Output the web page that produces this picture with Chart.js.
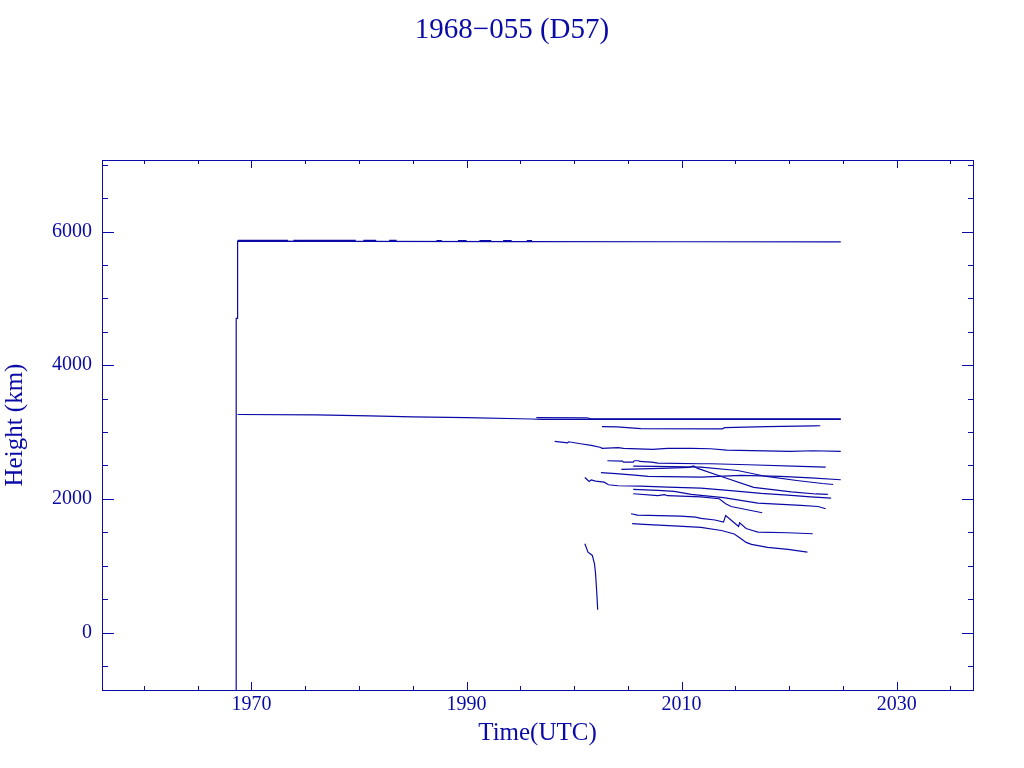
<!DOCTYPE html>
<html>
<head>
<meta charset="utf-8">
<title>1968-055 (D57)</title>
<script src="https://cdn.jsdelivr.net/npm/chart.js@4"></script>
<style>
  html, body { margin: 0; padding: 0; background: #fff; }
  #wrap { width: 1024px; height: 768px; }
</style>
</head>
<body>
<div id="wrap"><canvas id="chart" width="1024" height="768"></canvas></div>
<script>
// ===============================
// DATA  (year, height km)
// ===============================
const xTickYears = [1970, 1990, 2010, 2030];
const yTickKm = [0, 2000, 4000, 6000];

// main object: apogee + perigee
const apogeeA = [[1968.58, -2000], [1968.58, 4700], [1968.71, 4700], [1968.71, 5855], [1980, 5853], [1995, 5850], [2010, 5847], [2024.8, 5845]];
const perigeeA = [[1968.71, 3262], [1976, 3255], [1981, 3243], [1985, 3228], [1990, 3215], [1996, 3195], [1997, 3188], [2001.2, 3188], [2010, 3190], [2024.8, 3188]];

// companion object (partly overlapping the main tracks)
const apogeeB = [
  [1968.73, 5868], [1973.4, 5868], [1973.6, null],
  [1973.9, 5868], [1979.7, 5867], [1980.0, null],
  [1980.4, 5867], [1981.6, 5867], [1982.0, null],
  [1982.8, 5866], [1983.5, 5866], [1984.0, null],
  [1987.2, 5865], [1987.7, 5865], [1988.0, null],
  [1989.2, 5865], [1990.0, 5865], [1990.5, null],
  [1991.2, 5864], [1992.3, 5864], [1992.8, null],
  [1993.4, 5864], [1994.2, 5864], [1994.8, null],
  [1995.6, 5863], [1996.1, 5863]
];
const perigeeB = [[1996.5, 3215], [2001.2, 3213], [2001.5, 3200], [2024.8, 3198]];

// fragments
const frag01 = [[2002.6, 3080], [2004.0, 3078], [2006.2, 3050], [2013.8, 3048], [2014.0, 3066], [2017.9, 3082], [2022.3, 3093], [2022.9, 3094]];
const frag02 = [[1998.2, 2859], [1999.4, 2839], [1999.5, 2854], [2000.6, 2824], [2001.6, 2799], [2002.5, 2769], [2002.6, 2754], [2004.1, 2765], [2004.6, 2754], [2007.3, 2739], [2008.7, 2754], [2010.9, 2754], [2012.7, 2750], [2014.2, 2729], [2020.1, 2709], [2022.2, 2720], [2024.8, 2709]];
const frag03 = [[2003.1, 2570], [2004.5, 2564], [2004.6, 2549], [2005.5, 2549], [2005.6, 2570], [2006.0, 2570], [2006.1, 2560], [2007.2, 2549], [2007.8, 2534], [2011.8, 2525], [2012.7, 2525], [2016.2, 2510], [2021.1, 2485], [2023.4, 2474]];
const frag04 = [[2005.5, 2489], [2007.6, 2485], [2011.8, 2474], [2015.2, 2424], [2017.9, 2335], [2020.7, 2275], [2023.1, 2230], [2024.1, 2215]];
const frag05 = [[2004.4, 2440], [2008.1, 2455], [2010.7, 2470], [2011.1, 2492], [2011.5, 2455], [2013.7, 2335], [2016.7, 2171], [2020.2, 2103], [2022.5, 2073], [2023.6, 2066]];
const frag06 = [[2002.5, 2391], [2003.9, 2376], [2005.9, 2350], [2006.9, 2335], [2011.8, 2325], [2015.5, 2350], [2019.2, 2335], [2022.0, 2313], [2024.8, 2286]];
const frag07 = [[2001.0, 2320], [2001.4, 2260], [2001.6, 2283], [2002.0, 2265], [2002.8, 2250], [2003.2, 2211], [2004.1, 2196], [2006.2, 2190], [2008.7, 2175], [2011.8, 2160], [2014.3, 2126], [2017.4, 2081], [2020.2, 2051], [2022.0, 2029], [2023.9, 2011]];
const frag08 = [[2005.5, 2141], [2007.8, 2126], [2009.3, 2111], [2010.9, 2066], [2013.9, 2017], [2017.1, 1936], [2021.1, 1901], [2022.7, 1886], [2023.4, 1852]];
const frag09 = [[2005.5, 2076], [2007.8, 2047], [2008.4, 2062], [2008.7, 2047], [2011.8, 2029], [2013.5, 2002], [2014.1, 1927], [2014.6, 1886], [2017.5, 1792]];
const frag10 = [[2005.3, 1777], [2005.9, 1756], [2009.9, 1741], [2011.3, 1726], [2011.8, 1707], [2013.1, 1684], [2013.9, 1652], [2014.1, 1752], [2015.0, 1628], [2015.3, 1587], [2015.4, 1640], [2016.0, 1557], [2016.6, 1527], [2017.1, 1502], [2019.9, 1493], [2022.2, 1478]];
const frag11 = [[2005.4, 1628], [2006.5, 1617], [2007.9, 1607], [2009.7, 1592], [2011.8, 1572], [2013.7, 1527], [2014.9, 1475], [2015.5, 1408], [2016.0, 1348], [2016.5, 1318], [2018.0, 1273], [2019.9, 1243], [2021.7, 1203]];
const frag12 = [[2001.0, 1328], [2001.3, 1203], [2001.7, 1153], [2001.9, 1029], [2002.0, 880], [2002.1, 630], [2002.2, 341]];

const tracks = [apogeeA, perigeeA, apogeeB, perigeeB,
  frag01, frag02, frag03, frag04, frag05, frag06, frag07, frag08, frag09, frag10, frag11, frag12];

// ===============================
// STYLE
// ===============================
const INK = "#0a0aa6";
const SERIF = "'Liberation Serif', 'DejaVu Serif', serif";

// box + inward ticks on all four sides
const frameTicks = {
  id: "frameTicks",
  afterDatasetsDraw(chart) {
    const { ctx, chartArea: a, scales: { x, y } } = chart;
    ctx.save();
    ctx.strokeStyle = INK;
    ctx.lineWidth = 1;
    ctx.strokeRect(a.left + 0.5, a.top + 0.5, a.right - a.left, a.bottom - a.top);

    ctx.beginPath();
    for (let v = Math.ceil(x.min / 5) * 5; v <= x.max; v += 5) {
      const px = Math.round(x.getPixelForValue(v)) + 0.5;
      const len = xTickYears.includes(v) ? 8 : 4;
      ctx.moveTo(px, a.bottom); ctx.lineTo(px, a.bottom - len);
      ctx.moveTo(px, a.top); ctx.lineTo(px, a.top + len);
    }
    for (let v = Math.ceil(y.min / 500) * 500; v <= y.max; v += 500) {
      const py = Math.round(y.getPixelForValue(v)) + 0.5;
      const len = yTickKm.includes(v) ? 12 : 6;
      ctx.moveTo(a.left, py); ctx.lineTo(a.left + len, py);
      ctx.moveTo(a.right + 1, py); ctx.lineTo(a.right + 1 - len, py);
    }
    ctx.stroke();
    ctx.restore();
  }
};

document.addEventListener("DOMContentLoaded", () => {

  const datasets = tracks.map(t => ({
    data: t.map(([yr, km]) => ({ x: yr, y: km })),
    borderColor: INK,
    borderWidth: 1.2,
    pointRadius: 0,
    tension: 0,
    fill: false,
    spanGaps: false
  }));

  new Chart(document.getElementById("chart"), {
    type: "line",
    data: { datasets },
    plugins: [frameTicks],
    options: {
      responsive: false,
      animation: false,
      layout: { padding: 0 },
      plugins: {
        legend: { display: false },
        tooltip: { enabled: false },
        title: {
          display: true,
          text: "1968\u2212055 (D57)",
          color: INK,
          font: { family: SERIF, size: 29, weight: "normal" },
          padding: { top: 13, bottom: 112.2 }
        }
      },
      scales: {
        x: {
          type: "linear",
          min: 1956.1,
          max: 2037.1,
          grid: { display: false, drawTicks: false },
          border: { display: false },
          afterBuildTicks: s => { s.ticks = xTickYears.map(v => ({ value: v })); },
          afterFit: s => { s.height = 78; },
          ticks: {
            color: INK,
            padding: 3,
            maxRotation: 0,
            font: { family: SERIF, size: 20 },
            callback: v => String(v)
          },
          title: {
            display: true,
            text: "Time(UTC)",
            color: INK,
            font: { family: SERIF, size: 25 },
            padding: { top: 0, bottom: 20 }
          }
        },
        y: {
          type: "linear",
          min: -860,
          max: 7070,
          grid: { display: false, drawTicks: false },
          border: { display: false },
          afterBuildTicks: s => { s.ticks = yTickKm.map(v => ({ value: v })); },
          afterFit: s => { s.width = 102; },
          ticks: {
            color: INK,
            padding: 10,
            font: { family: SERIF, size: 20 },
            callback: v => String(v)
          },
          title: {
            display: true,
            text: "Height (km)",
            color: INK,
            font: { family: SERIF, size: 25 },
            padding: { top: 0, bottom: 0 }
          }
        },
        // empty right-hand margin so the page title centres on the full width
        yRight: {
          type: "linear",
          position: "right",
          grid: { display: false, drawTicks: false },
          border: { display: false },
          ticks: { display: false },
          afterFit: s => { s.width = 51; }
        }
      }
    }
  });
});
</script>
</body>
</html>
